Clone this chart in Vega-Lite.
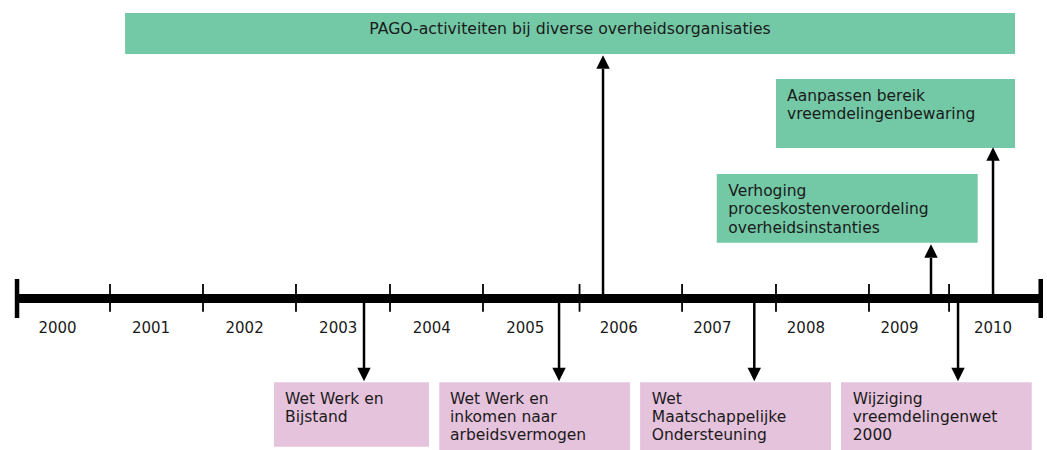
{
  "$schema": "https://vega.github.io/schema/vega-lite/v6.json",
  "width": 1047,
  "height": 450,
  "autosize": {"type": "fit", "contains": "padding"},
  "padding": 0,
  "background": "white",
  "config": {"view": {"stroke": null}},
  "datasets": {
    "boxes": [
      {"x": 2001.222, "x2": 2010.735, "y": 285.5, "y2": 244.5, "group": "beleid"},
      {"x": 2008.180, "x2": 2010.735, "y": 219.5, "y2": 150.5, "group": "beleid"},
      {"x": 2007.547, "x2": 2010.336, "y": 124.5, "y2": 55.8, "group": "beleid"},
      {"x": 2002.814, "x2": 2004.471, "y": -83.8, "y2": -148.2, "group": "wet"},
      {"x": 2004.581, "x2": 2006.620, "y": -83.8, "y2": -151.5, "group": "wet"},
      {"x": 2006.727, "x2": 2008.768, "y": -83.8, "y2": -151.5, "group": "wet"},
      {"x": 2008.875, "x2": 2010.914, "y": -83.8, "y2": -151.5, "group": "wet"}
    ],
    "timeline": [
      {"x": 2000.067, "x2": 2011.01, "y": 0}
    ],
    "caps": [
      {"x": 2000.067, "y": 19.5, "y2": -19.5},
      {"x": 2011.01, "y": 19.5, "y2": -19.5}
    ],
    "ticks": [
      {"x": 2001.061, "y": 14.5, "y2": -13.2},
      {"x": 2002.055, "y": 14.5, "y2": -13.2},
      {"x": 2003.049, "y": 14.5, "y2": -13.2},
      {"x": 2004.054, "y": 14.5, "y2": -13.2},
      {"x": 2005.048, "y": 14.5, "y2": -13.2},
      {"x": 2006.080, "y": 14.5, "y2": -13.2},
      {"x": 2007.176, "y": 14.5, "y2": -13.2},
      {"x": 2008.180, "y": 14.5, "y2": -13.2},
      {"x": 2009.174, "y": 14.5, "y2": -13.2},
      {"x": 2010.030, "y": 14.5, "y2": -13.2}
    ],
    "stems": [
      {"x": 2006.331, "y": 0, "y2": 229.5},
      {"x": 2010.5, "y": 0, "y2": 138.5},
      {"x": 2009.837, "y": 0, "y2": 40.5},
      {"x": 2003.776, "y": 0, "y2": -69.5},
      {"x": 2005.861, "y": 0, "y2": -69.5},
      {"x": 2007.948, "y": 0, "y2": -69.5},
      {"x": 2010.126, "y": 0, "y2": -69.5}
    ],
    "heads": [
      {"x": 2006.331, "y": 236.5, "dir": "up"},
      {"x": 2010.5, "y": 144.5, "dir": "up"},
      {"x": 2009.837, "y": 47.5, "dir": "up"},
      {"x": 2003.776, "y": -76, "dir": "down"},
      {"x": 2005.861, "y": -76, "dir": "down"},
      {"x": 2007.948, "y": -76, "dir": "down"},
      {"x": 2010.126, "y": -76, "dir": "down"}
    ],
    "title": [
      {"x": 2005.978, "y": 265, "label": "PAGO-activiteiten bij diverse overheidsorganisaties"}
    ],
    "years": [
      {"x": 2000.5, "y": -34.5, "label": "2000"},
      {"x": 2001.5, "y": -34.5, "label": "2001"},
      {"x": 2002.5, "y": -34.5, "label": "2002"},
      {"x": 2003.5, "y": -34.5, "label": "2003"},
      {"x": 2004.5, "y": -34.5, "label": "2004"},
      {"x": 2005.5, "y": -34.5, "label": "2005"},
      {"x": 2006.5, "y": -34.5, "label": "2006"},
      {"x": 2007.5, "y": -34.5, "label": "2007"},
      {"x": 2008.5, "y": -34.5, "label": "2008"},
      {"x": 2009.5, "y": -34.5, "label": "2009"},
      {"x": 2010.5, "y": -34.5, "label": "2010"}
    ],
    "lefttext": [
      {"x": 2008.298, "y": 198, "label": "Aanpassen bereik\nvreemdelingenbewaring"},
      {"x": 2007.670, "y": 102.5, "label": "Verhoging\nproceskostenveroordeling\noverheidsinstanties"},
      {"x": 2002.932, "y": -105.2, "label": "Wet Werk en\nBijstand"},
      {"x": 2004.696, "y": -105.2, "label": "Wet Werk en\ninkomen naar\narbeidsvermogen"},
      {"x": 2006.852, "y": -105.2, "label": "Wet\nMaatschappelijke\nOndersteuning"},
      {"x": 2009.000, "y": -105.2, "label": "Wijziging\nvreemdelingenwet\n2000"}
    ]
  },
  "encoding": {
    "x": {"field": "x", "type": "quantitative", "axis": null, "scale": {"domain": [1999.885, 2011.077], "nice": false, "zero": false}},
    "y": {"field": "y", "type": "quantitative", "axis": null, "scale": {"domain": [-151.5, 298.5], "nice": false, "zero": false}}
  },
  "layer": [
    {
      "data": {"name": "boxes"},
      "mark": {"type": "rect", "clip": true},
      "encoding": {
        "x2": {"field": "x2"},
        "y2": {"field": "y2"},
        "color": {"field": "group", "type": "nominal", "legend": null, "scale": {"domain": ["beleid", "wet"], "range": ["#73C8A6", "#E6C3DD"]}}
      }
    },
    {
      "data": {"name": "stems"},
      "mark": {"type": "rule", "color": "black", "strokeWidth": 2.5},
      "encoding": {"y2": {"field": "y2"}}
    },
    {
      "data": {"name": "heads"},
      "mark": {"type": "point", "filled": true, "opacity": 1, "color": "black", "size": 180, "strokeWidth": 0},
      "encoding": {
        "shape": {"field": "dir", "type": "nominal", "legend": null, "scale": {"domain": ["up", "down"], "range": ["M0,-1L1,1L-1,1Z", "M0,1L1,-1L-1,-1Z"]}}
      }
    },
    {
      "data": {"name": "ticks"},
      "mark": {"type": "rule", "color": "black", "strokeWidth": 1.8},
      "encoding": {"y2": {"field": "y2"}}
    },
    {
      "data": {"name": "timeline"},
      "mark": {"type": "rule", "color": "black", "strokeWidth": 9},
      "encoding": {"x2": {"field": "x2"}}
    },
    {
      "data": {"name": "caps"},
      "mark": {"type": "rule", "color": "black", "strokeWidth": 4.5},
      "encoding": {"y2": {"field": "y2"}}
    },
    {
      "data": {"name": "title"},
      "mark": {"type": "text", "align": "center", "baseline": "alphabetic", "font": "DejaVu Sans", "fontSize": 15.7, "color": "#1a1a1a"},
      "encoding": {"text": {"field": "label"}}
    },
    {
      "data": {"name": "years"},
      "mark": {"type": "text", "align": "center", "baseline": "alphabetic", "font": "DejaVu Sans", "fontSize": 15, "color": "#1a1a1a"},
      "encoding": {"text": {"field": "label"}}
    },
    {
      "data": {"name": "lefttext"},
      "mark": {"type": "text", "align": "left", "baseline": "alphabetic", "font": "DejaVu Sans", "fontSize": 15.5, "color": "#1a1a1a", "lineBreak": "\n", "lineHeight": 18.3},
      "encoding": {"text": {"field": "label"}}
    }
  ]
}
